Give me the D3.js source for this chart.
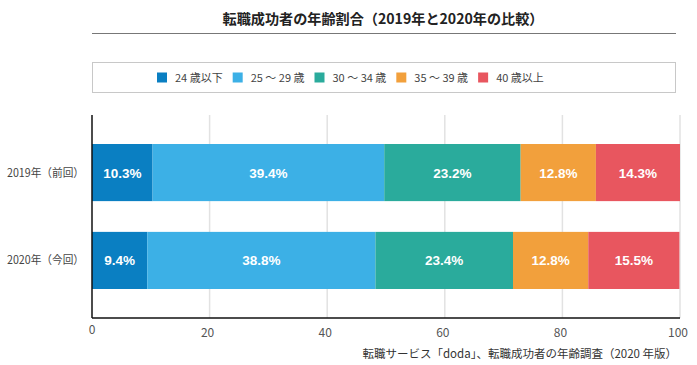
<!DOCTYPE html>
<html><head><meta charset="utf-8">
<script src="https://cdn.jsdelivr.net/npm/d3@7"></script>
<style>
body{margin:0;background:#fff;}
text{font-family:"Noto Sans CJK JP","Noto Sans",sans-serif;}
</style></head>
<body><svg id="c" width="697" height="365"></svg>
<script>
const title = "転職成功者の年齢割合（2019年と2020年の比較）";
const source = "転職サービス「doda」、転職成功者の年齢調査（2020 年版）";
const years = ["2019年（前回）", "2020年（今回）"];
const groups = ["24 歳以下", "25 ～ 29 歳", "30 ～ 34 歳", "35 ～ 39 歳", "40 歳以上"];
const colors = ["#0a7fc2", "#3cb0e6", "#2aab9c", "#f2a03c", "#e8565f"];
const values2019 = [10.3, 39.4, 23.2, 12.8, 14.3];
const values2020 = [9.4, 38.8, 23.4, 12.8, 15.5];
const xTicks = [0, 20, 40, 60, 80, 100];

const seriesByYear = [values2019, values2020];
const svg = d3.select("#c");
const L = 92, R = 680, T = 115, B = 318;

const x = d3.scaleLinear().domain([0, 100]).range([L, R]);
const y = d3.scaleBand().domain(years).range([T, B]).paddingInner(0.35).paddingOuter(0.33);

// title
svg.append("text").attr("x", 383).attr("y", 24).attr("text-anchor", "middle")
  .attr("font-size", 14).attr("font-weight", "bold").attr("fill", "#222")
  .attr("textLength", 321).attr("lengthAdjust", "spacingAndGlyphs").text(title);
svg.append("line").attr("x1", 92).attr("x2", 676).attr("y1", 33.5).attr("y2", 33.5)
  .attr("stroke", "#777").attr("stroke-width", 1);

// legend box
svg.append("rect").attr("x", 92.5).attr("y", 62.5).attr("width", 583).attr("height", 30)
  .attr("fill", "#fff").attr("stroke", "#c8c8c8");
const lg = svg.append("g").attr("transform", "translate(157,77.5)");
let cx = 0;
groups.forEach((g, i) => {
  const it = lg.append("g");
  it.append("rect").attr("x", 0).attr("y", -5).attr("width", 10).attr("height", 10).attr("fill", colors[i]);
  const t = it.append("text").attr("x", 18).attr("y", 4.5).attr("font-size", 11).attr("fill", "#444").text(g);
  const w = 18 + t.node().getComputedTextLength();
  it.attr("transform", `translate(${cx},0)`);
  cx += w + 10;
});

// gridlines
svg.append("g").selectAll("line").data(xTicks.slice(1)).join("line")
  .attr("x1", d => x(d)).attr("x2", d => x(d)).attr("y1", T).attr("y2", B)
  .attr("stroke", "#e2e2e2").attr("stroke-width", 1.5);

// bars
years.forEach((yr, yi) => {
  let acc = 0;
  const segs = seriesByYear[yi].map((v, i) => { const s = {x0: acc, x1: acc + v, v, i}; acc += v; return s; });
  const g = svg.append("g");
  g.selectAll("rect").data(segs).join("rect")
    .attr("x", d => x(d.x0)).attr("width", d => x(d.x1) - x(d.x0))
    .attr("y", y(yr)).attr("height", y.bandwidth())
    .attr("fill", d => colors[d.i]);
  g.selectAll("text").data(segs).join("text")
    .attr("x", d => (x(d.x0) + x(d.x1)) / 2).attr("y", y(yr) + y.bandwidth() / 2 + 5)
    .attr("text-anchor", "middle").attr("font-size", 13.5).attr("font-weight", "bold")
    .attr("fill", "#fff").style("font-family", "'Liberation Sans',Arial,sans-serif")
    .text(d => d.v.toFixed(1) + "%");
});

// axes
svg.append("line").attr("x1", L).attr("x2", L).attr("y1", T).attr("y2", B).attr("stroke", "#111").attr("stroke-width", 1.5);
svg.append("line").attr("x1", L).attr("x2", R).attr("y1", B).attr("y2", B).attr("stroke", "#111").attr("stroke-width", 1.5);

svg.append("g").selectAll("text").data(xTicks).join("text")
  .attr("x", d => d === 0 ? x(d) : x(d) - 2).attr("y", d => d === 0 ? 334 : 337)
  .attr("text-anchor", "middle").attr("font-size", 12).attr("fill", "#555")
  .text(d => d);

svg.append("g").selectAll("text").data(years).join("text")
  .attr("x", 84).attr("y", d => y(d) + y.bandwidth() / 2 + 4)
  .attr("text-anchor", "end").attr("font-size", 11.5).attr("fill", "#444")
  .attr("textLength", 77).attr("lengthAdjust", "spacingAndGlyphs").text(d => d);

svg.append("text").attr("x", 677).attr("y", 358).attr("text-anchor", "end")
  .attr("font-size", 11.5).attr("fill", "#333").text(source);
</script></body></html>
